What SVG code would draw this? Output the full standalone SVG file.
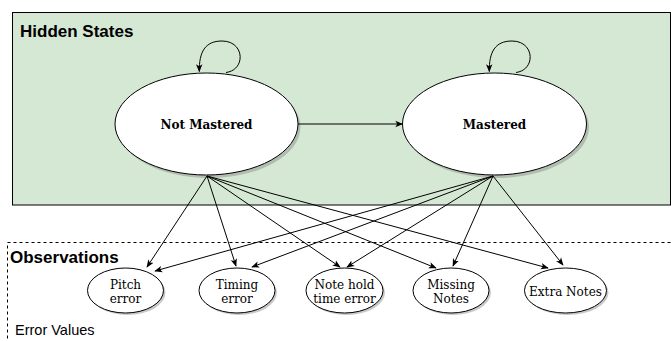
<svg xmlns="http://www.w3.org/2000/svg" width="671" height="341" viewBox="0 0 671 341">
<style>
.st{font-family:"DejaVu Serif",serif;font-weight:bold;font-size:12px;text-anchor:middle}
.ob{font-family:"DejaVu Serif",serif;font-size:12px;text-anchor:middle}
.big{fill:#fff;stroke:#000;stroke-width:1}
.shadow{fill:#888;opacity:0.45}
.edge{fill:none;stroke:#000;stroke-width:1;marker-end:url(#ah)}
.title{font-family:"Liberation Sans",Arial,sans-serif;font-weight:bold;fill:#000}
</style>
<defs>
<marker id="ah" viewBox="0 0 10 10" refX="9" refY="5" markerWidth="8" markerHeight="8" markerUnits="userSpaceOnUse" orient="auto">
<path d="M0,1 L10,5 L0,9 L2.5,5 Z" fill="#000"/>
</marker>
</defs>
<rect width="671" height="341" fill="#fff"/>
<g id="hidden-states">
<rect x="12.5" y="12.5" width="658" height="192.5" fill="#d5e8d4" stroke="#000" stroke-width="1"/>
<text class="title" x="20" y="37" font-size="17">Hidden States</text>
</g>
<g id="observations">
<rect x="7.5" y="242.5" width="670" height="110" fill="none" stroke="#000" stroke-width="1" stroke-dasharray="3,3"/>
<text class="title" x="10" y="263" font-size="17">Observations</text>
<text x="15" y="335" font-family="Liberation Sans,Arial,sans-serif" font-size="14.5" fill="#000">Error Values</text>
</g>
<g id="not-mastered">
<ellipse class="shadow" cx="209" cy="127" rx="91.5" ry="51"/>
<ellipse class="big" cx="206.5" cy="124" rx="91.5" ry="51"/>
<text class="st" x="206.5" y="129">Not Mastered</text>
</g>
<g id="mastered">
<ellipse class="shadow" cx="497" cy="127" rx="92" ry="51"/>
<ellipse class="big" cx="494.5" cy="124" rx="92" ry="51"/>
<text class="st" x="494.5" y="129">Mastered</text>
</g>
<g id="pitch-error">
<ellipse class="shadow" cx="127.5" cy="292.5" rx="38" ry="22.5"/>
<ellipse class="big" cx="125.5" cy="290.5" rx="38" ry="22.5"/>
<text class="ob" x="125.5" y="289">Pitch</text>
<text class="ob" x="125.5" y="303">error</text>
</g>
<g id="timing-error">
<ellipse class="shadow" cx="239" cy="292.5" rx="38" ry="22.5"/>
<ellipse class="big" cx="237" cy="290.5" rx="38" ry="22.5"/>
<text class="ob" x="237" y="289">Timing</text>
<text class="ob" x="237" y="303">error</text>
</g>
<g id="note-hold-time-error">
<ellipse class="shadow" cx="346.5" cy="292.5" rx="38.5" ry="22.5"/>
<ellipse class="big" cx="344.5" cy="290.5" rx="38.5" ry="22.5"/>
<text class="ob" x="344.5" y="289">Note hold</text>
<text class="ob" x="344.5" y="303">time error</text>
</g>
<g id="missing-notes">
<ellipse class="shadow" cx="453" cy="292.5" rx="38" ry="22.5"/>
<ellipse class="big" cx="451" cy="290.5" rx="38" ry="22.5"/>
<text class="ob" x="451" y="289">Missing</text>
<text class="ob" x="451" y="303">Notes</text>
</g>
<g id="extra-notes">
<ellipse class="shadow" cx="567.5" cy="292.5" rx="41" ry="22.5"/>
<ellipse class="big" cx="565.5" cy="290.5" rx="41" ry="22.5"/>
<text class="ob" x="565.5" y="296">Extra Notes</text>
</g>
<g id="connectors">
<path class="edge" d="M226,72.5 C246,70 245,41 222,41 C205,41 199,52 199.3,71.5"/>
<path class="edge" d="M516,72.5 C536,70 535,41 512,41 C495,41 489,52 489.3,71.5"/>
<path class="edge" d="M298,124 L402.5,124"/>
<path class="edge" d="M207,176 L147,267"/>
<path class="edge" d="M207,176 L236,266"/>
<path class="edge" d="M207,176 L340,267"/>
<path class="edge" d="M207,176 L436,268"/>
<path class="edge" d="M207,176 L548,268"/>
<path class="edge" d="M493,176 L155,271"/>
<path class="edge" d="M493,176 L252,267"/>
<path class="edge" d="M493,176 L347,267"/>
<path class="edge" d="M493,176 L453,266"/>
<path class="edge" d="M493,176 L563,265"/>
</g>
</svg>
